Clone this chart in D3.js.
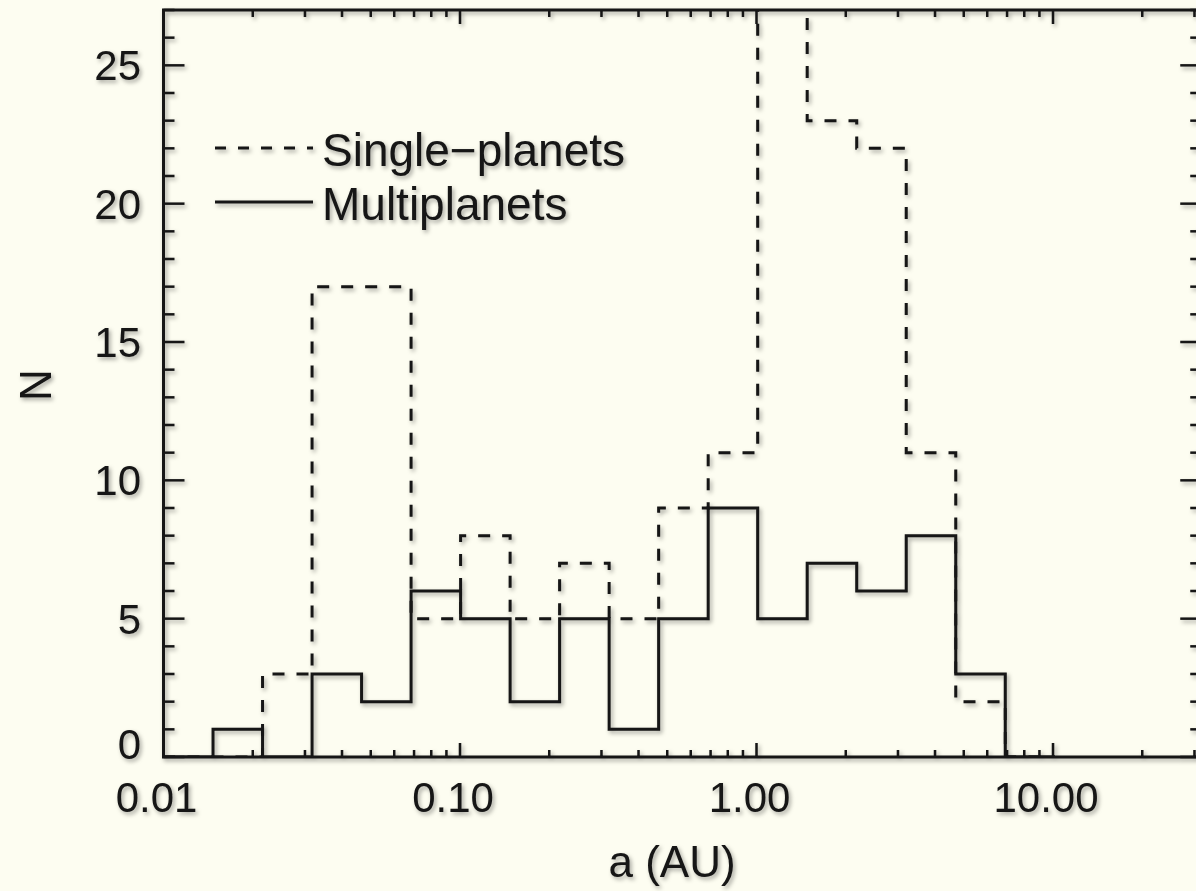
<!DOCTYPE html>
<html>
<head>
<meta charset="utf-8">
<script src="https://cdn.jsdelivr.net/npm/d3@7"></script>
<style>
  html, body { margin: 0; padding: 0; background: #fdfdf1; }
  svg { display: block; }
  text { font-family: "Liberation Sans", Arial, Helvetica, sans-serif; fill: #141414; }
</style>
</head>
<body>
<svg id="chart" width="1196" height="891"></svg>
<script>
// ---- data ----
const binEdges = [0.01, 0.01469, 0.02158, 0.0317, 0.04656, 0.06839, 0.10046, 0.14757, 0.21677,
                  0.31842, 0.46774, 0.68707, 1.00925, 1.48252, 2.17771, 3.1989, 4.69894, 6.9024, 10.139];
const singleCounts = [0, 0, 3, 17, 17, 5, 8, 5, 7, 5, 9, 11, 32, 23, 22, 11, 2, 0];
const multiCounts  = [0, 1, 0, 3, 2, 6, 5, 2, 5, 1, 5, 9, 5, 7, 6, 8, 3, 0];
const xMajorTicks = [0.01, 0.1, 1, 10];
const xTickLabels = ["0.01", "0.10", "1.00", "10.00"];
const yMajorTicks = [0, 5, 10, 15, 20, 25];
const yTickLabels = ["0", "5", "10", "15", "20", "25"];
const legendLabels = ["Single\u2212planets", "Multiplanets"];

(function () {
// ---- layout ----
const svg = d3.select("#chart");
const pL = 163.5, pR = 1201.25, pT = 10, pB = 757;
const x = d3.scaleLog().domain([0.01, 31.62]).range([pL, pR]);
const y = d3.scaleLinear().domain([0, 27]).range([pB, pT]);
const ink = "#141414";

const defs = svg.append("defs");
const f = defs.append("filter").attr("id", "shadow")
  .attr("x", "-10%").attr("y", "-10%").attr("width", "120%").attr("height", "120%");
f.append("feDropShadow").attr("dx", 2).attr("dy", 2.5).attr("stdDeviation", 2)
  .attr("flood-color", "#000").attr("flood-opacity", 0.35);
defs.append("clipPath").attr("id", "plotclip").append("rect")
  .attr("x", pL).attr("y", pT).attr("width", pR - pL).attr("height", pB - pT);

svg.append("rect").attr("width", 1196).attr("height", 891).attr("fill", "#fdfdf1");

const g = svg.append("g").attr("filter", "url(#shadow)");

// ---- histograms ----
function stepPoints(counts) {
  const pts = [[binEdges[0], 0]];
  counts.forEach((v, i) => {
    pts.push([binEdges[i], v]);
    pts.push([binEdges[i + 1], v]);
  });
  pts.push([binEdges[binEdges.length - 1], 0]);
  return pts;
}
const line = d3.line().x(d => x(d[0])).y(d => y(d[1]));
const plot = g.append("g").attr("clip-path", "url(#plotclip)");
plot.append("path").attr("d", line(stepPoints(singleCounts)))
  .attr("fill", "none").attr("stroke", ink).attr("stroke-width", 3)
  .attr("stroke-dasharray", "12,12");
plot.append("path").attr("d", line(stepPoints(multiCounts)))
  .attr("fill", "none").attr("stroke", ink).attr("stroke-width", 3);

// ---- frame ----
g.append("rect").attr("x", pL).attr("y", pT)
  .attr("width", pR - pL).attr("height", pB - pT)
  .attr("fill", "none").attr("stroke", ink).attr("stroke-width", 3);

// x ticks (bottom + top), inward
const xMinor = [];
[0.01, 0.1, 1, 10].forEach(d => { for (let m = 2; m <= 9; m++) { const v = d * m; if (v <= 31.62) xMinor.push(v); } });
const xt = g.append("g").attr("stroke", ink).attr("stroke-width", 2.5);
xMajorTicks.forEach(v => {
  xt.append("line").attr("x1", x(v)).attr("x2", x(v)).attr("y1", pB).attr("y2", pB - 14);
  xt.append("line").attr("x1", x(v)).attr("x2", x(v)).attr("y1", pT).attr("y2", pT + 14);
});
xMinor.forEach(v => {
  xt.append("line").attr("x1", x(v)).attr("x2", x(v)).attr("y1", pB).attr("y2", pB - 7);
  xt.append("line").attr("x1", x(v)).attr("x2", x(v)).attr("y1", pT).attr("y2", pT + 7);
});
// y ticks (left + right), inward
const yt = g.append("g").attr("stroke", ink).attr("stroke-width", 2.5);
d3.range(0, 28).forEach(v => {
  const len = (v % 5 === 0) ? 21 : 11;
  yt.append("line").attr("x1", pL).attr("x2", pL + len).attr("y1", y(v)).attr("y2", y(v));
  yt.append("line").attr("x1", pR).attr("x2", pR - len).attr("y1", y(v)).attr("y2", y(v));
});

// tick labels
g.append("g").selectAll("text").data(xMajorTicks).join("text")
  .attr("x", d => x(d) - 7).attr("y", 812)
  .attr("text-anchor", "middle").attr("font-size", 42)
  .text((d, i) => xTickLabels[i]);
g.append("g").selectAll("text").data(yMajorTicks).join("text")
  .attr("x", 141).attr("y", d => y(d) + 15 - (d === 0 ? 13 : 0))
  .attr("text-anchor", "end").attr("font-size", 42)
  .text((d, i) => yTickLabels[i]);

// axis titles
g.append("text").attr("x", 672).attr("y", 877).attr("text-anchor", "middle")
  .attr("font-size", 44).text("a (AU)");
g.append("text").attr("transform", "translate(51,385) rotate(-90)")
  .attr("text-anchor", "middle").attr("font-size", 44).text("N");

// legend
const legY = [148, 202];
const leg = g.append("g");
leg.append("line").attr("x1", 215).attr("x2", 313).attr("y1", legY[0]).attr("y2", legY[0])
  .attr("stroke", ink).attr("stroke-width", 3).attr("stroke-dasharray", "11,12");
leg.append("line").attr("x1", 215).attr("x2", 313).attr("y1", legY[1]).attr("y2", legY[1])
  .attr("stroke", ink).attr("stroke-width", 3);
leg.selectAll("text").data(legendLabels).join("text")
  .attr("x", 322).attr("y", (d, i) => legY[i] + 18)
  .attr("font-size", 46).text(d => d);
})();
</script>
</body>
</html>
